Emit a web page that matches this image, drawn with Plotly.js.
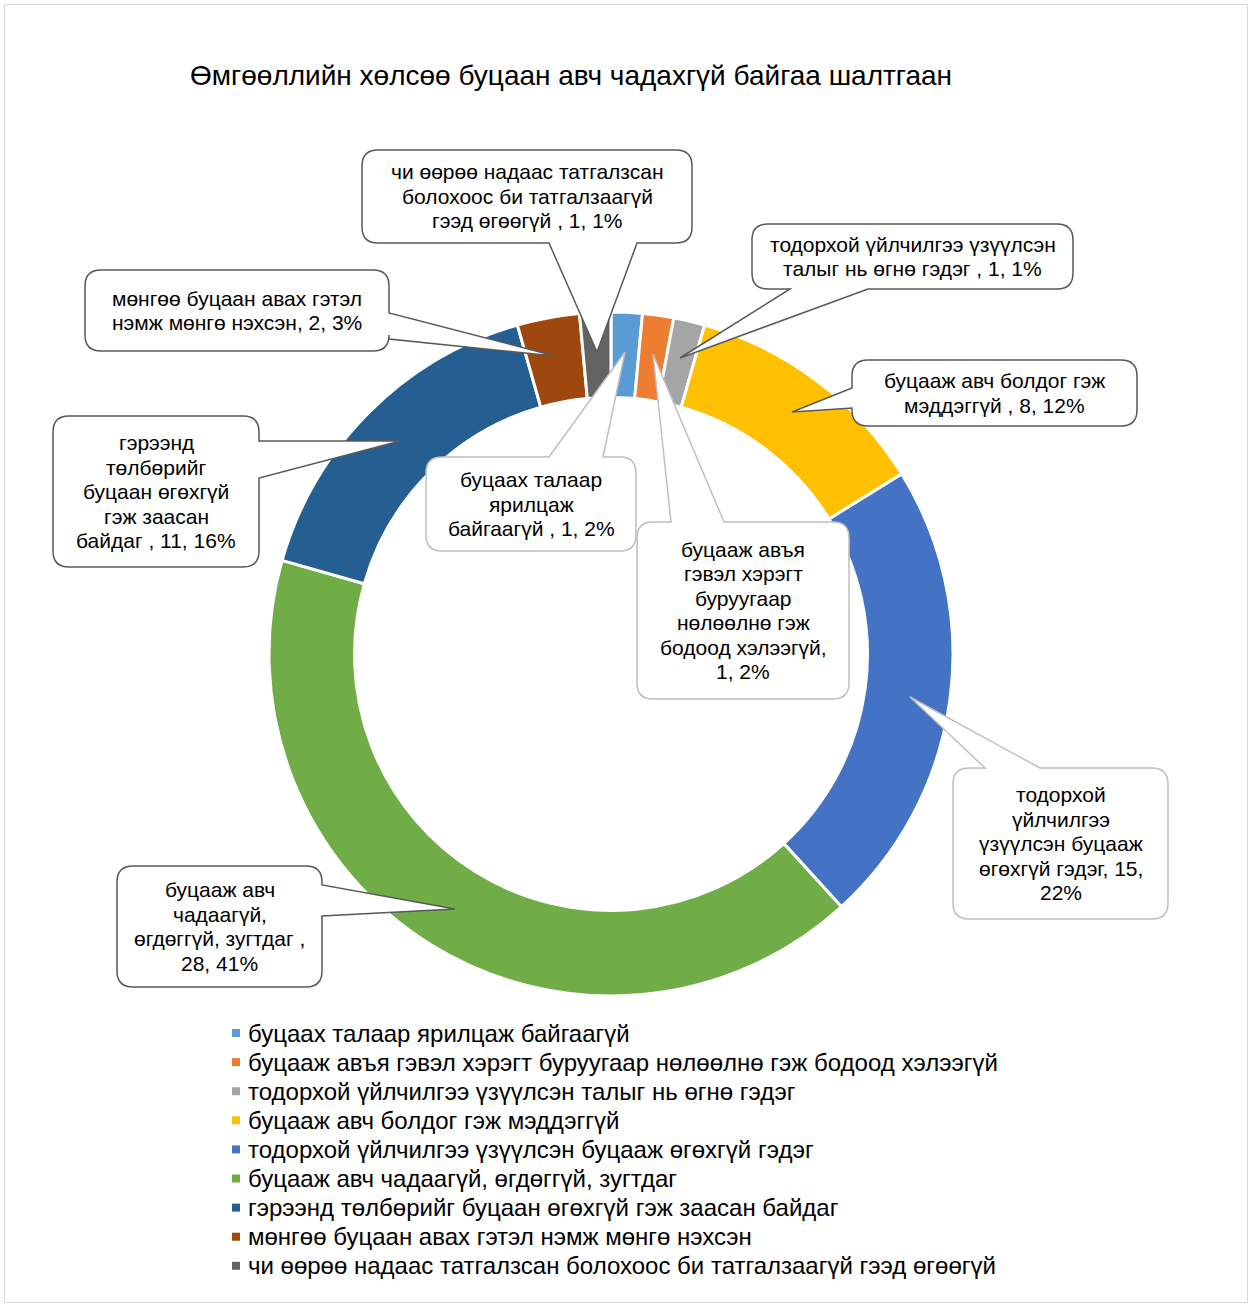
<!DOCTYPE html>
<html>
<head>
<meta charset="utf-8">
<script src="https://cdn.plot.ly/plotly-3.0.1.min.js"></script>
<style>
  body { margin: 0; background: #fff; }
  #chart { width: 1251px; height: 1307px; }
</style>
</head>
<body>
<div id="chart"></div>
<script>
// chart data
var labels = [
	"буцаах талаар ярилцаж байгаагүй",
	"буцааж авъя гэвэл хэрэгт буруугаар нөлөөлнө гэж бодоод хэлээгүй",
	"тодорхой үйлчилгээ үзүүлсэн талыг нь өгнө гэдэг",
	"буцааж авч болдог гэж мэддэггүй",
	"тодорхой үйлчилгээ үзүүлсэн буцааж өгөхгүй гэдэг",
	"буцааж авч чадаагүй, өгдөггүй, зугтдаг",
	"гэрээнд төлбөрийг буцаан өгөхгүй гэж заасан байдаг",
	"мөнгөө буцаан авах гэтэл нэмж мөнгө нэхсэн",
	"чи өөрөө надаас татгалзсан болохоос би татгалзаагүй гээд өгөөгүй"
];
var values = [1, 1, 1, 8, 15, 28, 11, 2, 1];
var percents = ["2%", "2%", "1%", "12%", "22%", "41%", "16%", "3%", "1%"];
var colors = ["#5B9BD5", "#ED7D31", "#A5A5A5", "#FFC000", "#4472C4", "#70AD47", "#255E91", "#9E480E", "#636363"];

// callout text, line by line, as wrapped in the original
var calloutLines = [
	["буцаах талаар", "ярилцаж", "байгаагүй , 1, 2%"],
	["буцааж авъя", "гэвэл хэрэгт", "буруугаар", "нөлөөлнө гэж", "бодоод хэлээгүй,", "1, 2%"],
	["тодорхой үйлчилгээ үзүүлсэн", "талыг нь өгнө гэдэг , 1, 1%"],
	["буцааж авч болдог гэж", "мэддэггүй , 8, 12%"],
	["тодорхой", "үйлчилгээ", "үзүүлсэн буцааж", "өгөхгүй гэдэг, 15,", "22%"],
	["буцааж авч", "чадаагүй,", "өгдөггүй, зугтдаг ,", "28, 41%"],
	["гэрээнд", "төлбөрийг", "буцаан өгөхгүй", "гэж заасан", "байдаг , 11, 16%"],
	["мөнгөө буцаан авах гэтэл", "нэмж мөнгө нэхсэн, 2, 3%"],
	["чи өөрөө надаас татгалзсан", "болохоос би татгалзаагүй", "гээд өгөөгүй , 1, 1%"]
];

// callout boxes in pixels: box, wedge side, wedge base (along side), wedge tip, border colour
var W = 1251, H = 1307;
var FONT = "Liberation Sans, Arial, sans-serif";
var callouts = [
	{ b: [426, 457, 636, 551], side: "top", a: 549, c: 603, tip: [625, 352], line: "#BFBFBF" },
	{ b: [637, 522, 849, 699], side: "top", a: 671, c: 724, tip: [653, 354], line: "#BFBFBF" },
	{ b: [752, 224, 1073, 289], side: "bottom", a: 790, c: 868, tip: [680, 358], line: "#595959" },
	{ b: [852, 360, 1137, 426], side: "left", a: 388, c: 408, tip: [792, 412], line: "#595959" },
	{ b: [953, 768, 1168, 919], side: "top", a: 985, c: 1040, tip: [910, 697], line: "#BFBFBF" },
	{ b: [117, 866, 322, 987], side: "right", a: 885, c: 916, tip: [455, 909], line: "#595959" },
	{ b: [53, 416, 259, 567], side: "right", a: 441, c: 478, tip: [400, 441], line: "#595959" },
	{ b: [85, 270, 389, 351], side: "right", a: 313, c: 339, tip: [555, 356], line: "#595959" },
	{ b: [362, 150, 692, 243], side: "bottom", a: 549, c: 637, tip: [597, 352], line: "#595959" }
];

function fx(x) { return (x / W).toFixed(5); }
function fy(y) { return (1 - y / H).toFixed(5); }
function P(x, y) { return fx(x) + "," + fy(y); }

// rounded box with a pointer wedge, traced clockwise
function calloutPath(c) {
	var x0 = c.b[0], y0 = c.b[1], x1 = c.b[2], y1 = c.b[3], r = 16;
	var t = P(c.tip[0], c.tip[1]);
	var d = "M" + P(x0 + r, y0);
	if (c.side == "top") d += " L" + P(c.a, y0) + " L" + t + " L" + P(c.c, y0);
	d += " L" + P(x1 - r, y0) + " Q" + P(x1, y0) + " " + P(x1, y0 + r);
	if (c.side == "right") d += " L" + P(x1, c.a) + " L" + t + " L" + P(x1, c.c);
	d += " L" + P(x1, y1 - r) + " Q" + P(x1, y1) + " " + P(x1 - r, y1);
	if (c.side == "bottom") d += " L" + P(c.c, y1) + " L" + t + " L" + P(c.a, y1);
	d += " L" + P(x0 + r, y1) + " Q" + P(x0, y1) + " " + P(x0, y1 - r);
	if (c.side == "left") d += " L" + P(x0, c.c) + " L" + t + " L" + P(x0, c.a);
	d += " L" + P(x0, y0 + r) + " Q" + P(x0, y0) + " " + P(x0 + r, y0) + " Z";
	return d;
}

var shapes = [{
	type: "rect", xref: "paper", yref: "paper",
	x0: 4.5 / W, x1: 1247.5 / W, y0: 1 - 1302.5 / H, y1: 1 - 4.5 / H,
	line: { color: "#D9D9D9", width: 1 }, fillcolor: "rgba(0,0,0,0)", layer: "below"
}];
var annotations = [];

for (var i = 0; i < callouts.length; i++) {
	var c = callouts[i];
	shapes.push({
		type: "path", xref: "paper", yref: "paper",
		path: calloutPath(c),
		fillcolor: "#FFFFFF",
		line: { color: c.line, width: 1.5 }
	});
	// one annotation per line so the line spacing stays tight like the original
	var lines = calloutLines[i];
	var cy = (c.b[1] + c.b[3]) / 2;
	for (var j = 0; j < lines.length; j++) {
		annotations.push({
			xref: "paper", yref: "paper",
			x: (c.b[0] + c.b[2]) / 2 / W,
			y: 1 - (cy + (j - (lines.length - 1) / 2) * 24.5) / H,
			xanchor: "center", yanchor: "middle",
			showarrow: false,
			text: lines[j],
			font: { family: FONT, size: 21, color: "#000000" }
		});
	}
}

// legend rows, drawn by hand for the tighter row spacing
var legendTop = 1033, legendStep = 29.1;
for (var k = 0; k < labels.length; k++) {
	var ly = legendTop + k * legendStep;
	shapes.push({
		type: "rect", xref: "paper", yref: "paper",
		x0: 232 / W, x1: 240 / W, y0: 1 - (ly + 4) / H, y1: 1 - (ly - 4) / H,
		fillcolor: colors[k], line: { width: 0 }
	});
	annotations.push({
		xref: "paper", yref: "paper",
		x: 246 / W, y: 1 - ly / H,
		xanchor: "left", yanchor: "middle",
		showarrow: false,
		text: labels[k],
		font: { family: FONT, size: 24, color: "#000000" }
	});
}

var trace = {
	type: "pie",
	labels: labels,
	values: values,
	sort: false,
	direction: "clockwise",
	rotation: 0,
	hole: 0.75,
	textinfo: "none",
	showlegend: false,
	marker: { colors: colors, line: { color: "#FFFFFF", width: 3 } },
	domain: { x: [269 / W, 953 / W], y: [1 - 996 / H, 1 - 312 / H] }
};

var layout = {
	width: W,
	height: H,
	margin: { l: 0, r: 0, t: 0, b: 0 },
	paper_bgcolor: "#FFFFFF",
	font: { family: FONT, color: "#000000" },
	title: {
		text: "Өмгөөллийн хөлсөө буцаан авч чадахгүй байгаа шалтгаан",
		font: { size: 28, color: "#000000" },
		xref: "paper", yref: "paper",
		x: 190 / W, xanchor: "left",
		y: 1 - 75 / H, yanchor: "middle"
	},
	showlegend: false,
	shapes: shapes,
	annotations: annotations
};

Plotly.newPlot("chart", [trace], layout, { displayModeBar: false });
</script>
</body>
</html>
